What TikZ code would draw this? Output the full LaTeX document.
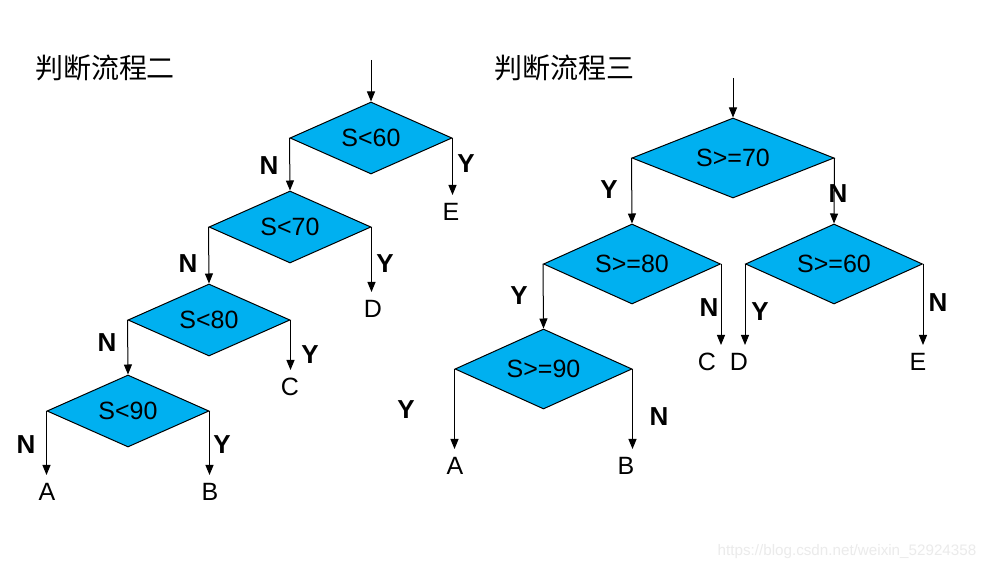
\documentclass[tikz,border=0pt]{standalone}
\usepackage{fontspec}
\setmainfont{Liberation Sans}
\newfontfamily\cjk{Noto Sans CJK SC}
\usetikzlibrary{shapes.geometric,arrows.meta}
\definecolor{dblue}{HTML}{00B0F0}
\begin{document}
\begin{tikzpicture}[x=0.5pt,y=-0.5pt,
  dec/.style={diamond, aspect=2.2, draw=black, line width=0.5pt, fill=dblue, minimum width=81pt, minimum height=36pt, inner sep=0pt, font=\fontsize{12.5}{14}\selectfont},
  decw/.style={dec, minimum width=88.5pt, minimum height=40pt},
  big/.style={dec, minimum width=101pt, minimum height=40pt},
  leaf/.style={inner xsep=0pt, inner ysep=4pt, anchor=north, font=\fontsize{12.5}{14}\selectfont},
  yn/.style={inner sep=0pt, font=\bfseries\fontsize{13}{15}\selectfont},
  arr/.style={-{Triangle[width=4pt,length=5pt]}, line width=0.5pt},
  ttl/.style={inner sep=0pt, font=\cjk\fontsize{14}{16}\selectfont}]
\useasboundingbox (0,0) rectangle (992,572);
\fill[white] (0,0) rectangle (992,572);
% titles
\node[ttl] (t1) at (105,68) {判断流程二};
\node[ttl] (t2) at (564,68) {判断流程三};
% ---------- left tree ----------
\coordinate (s1) at (371,60);
\node[dec] (d1) at (371,138) {S<60};
\node[dec] (d2) at (290,227) {S<70};
\node[dec] (d3) at (209,320) {S<80};
\node[dec] (d4) at (128,411) {S<90};
\node[leaf] (lE) at (451,195) {E};
\node[leaf] (lD) at (373,292) {D};
\node[leaf] (lC) at (290,370) {C};
\node[leaf] (lA) at (47,475) {A};
\node[leaf] (lB) at (210,475) {B};
\draw[arr] (s1) -- (d1.north);
\draw[arr] (d1.west) -- (d2.north);
\draw[arr] (d2.west) -- (d3.north);
\draw[arr] (d3.west) -- (d4.north);
\draw[arr] (d1.east) -- (d1.east |- lE.north);
\draw[arr] (d2.east) -- (d2.east |- lD.north);
\draw[arr] (d3.east) -- (d3.east |- lC.north);
\draw[arr] (d4.west) -- (d4.west |- lA.north);
\draw[arr] (d4.east) -- (d4.east |- lB.north);
\node[yn] (n1) at (269,166) {N};
\node[yn] (y1) at (466,164) {Y};
\node[yn] (n2) at (188,264) {N};
\node[yn] (y2) at (385,264) {Y};
\node[yn] (n3) at (107,343) {N};
\node[yn] (y3) at (310,355) {Y};
\node[yn] (n4) at (26,445) {N};
\node[yn] (y4) at (222,445) {Y};
% ---------- right tree ----------
\coordinate (s2) at (733,78);
\node[big] (e1) at (733,158) {S>=70};
\node[decw] (e2) at (632,264) {S>=80};
\node[decw] (e3) at (834,264) {S>=60};
\node[decw] (e4) at (543.5,369) {S>=90};
\node[leaf] (rC) at (707,345) {C};
\node[leaf] (rD) at (739,345) {D};
\node[leaf] (rE) at (918,345) {E};
\node[leaf] (rA) at (455,449) {A};
\node[leaf] (rB) at (626,449) {B};
\draw[arr] (s2) -- (e1.north);
\draw[arr] (e1.west) -- (e2.north);
\draw[arr] (e1.east) -- (e3.north);
\draw[arr] (e2.west) -- (e4.north);
\draw[arr] (e2.east) -- (e2.east |- rC.north);
\draw[arr] (e3.west) -- (e3.west |- rD.north);
\draw[arr] (e3.east) -- (e3.east |- rE.north);
\draw[arr] (e4.west) -- (e4.west |- rA.north);
\draw[arr] (e4.east) -- (e4.east |- rB.north);
\node[yn] (ry1) at (609,190) {Y};
\node[yn] (rn1) at (838,194) {N};
\node[yn] (ry2) at (519,296) {Y};
\node[yn] (rn2) at (709,308) {N};
\node[yn] (ry3) at (760,312) {Y};
\node[yn] (rn3) at (938,303) {N};
\node[yn] (ry4) at (406,410) {Y};
\node[yn] (rn4) at (659,417) {N};
% watermark
\node[inner sep=0pt, text=black!8, font=\fontsize{7.6}{9}\selectfont] (wm) at (847,552) {https://blog.csdn.net/weixin\_52924358};
\end{tikzpicture}
\end{document}
